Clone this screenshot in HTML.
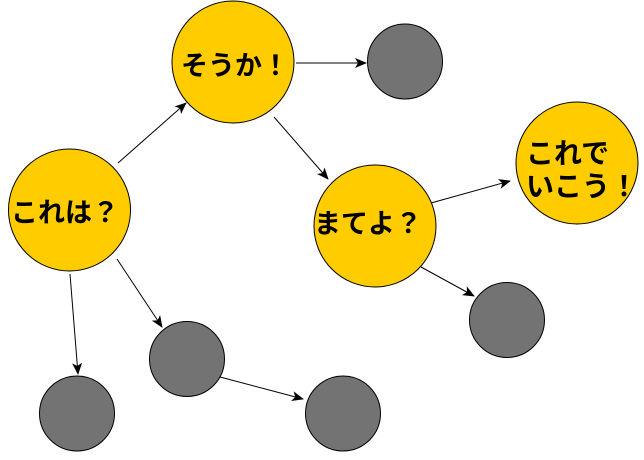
<!DOCTYPE html>
<html><head><meta charset="utf-8"><style>
body{margin:0;background:#fff;width:644px;height:455px;overflow:hidden}
text{font-family:"Liberation Sans","Noto Sans CJK JP",sans-serif;font-weight:bold;fill:#000}
</style></head><body>
<svg width="644" height="455" viewBox="0 0 644 455">
<defs><marker id="a" viewBox="0 0 12 10" refX="11" refY="5" markerWidth="12" markerHeight="10" markerUnits="userSpaceOnUse" orient="auto"><path d="M0,0 L12,5 L0,10 L3,5 Z" fill="#000"/></marker></defs>
<g stroke="#000" stroke-width="1" marker-end="url(#a)">
<line x1="118" y1="163" x2="186" y2="103"/>
<line x1="296" y1="63" x2="366" y2="63"/>
<line x1="274" y1="117" x2="328" y2="179"/>
<line x1="431" y1="203" x2="510" y2="181"/>
<line x1="421" y1="267" x2="474" y2="296"/>
<line x1="70" y1="274" x2="78" y2="374"/>
<line x1="117" y1="259" x2="162" y2="327"/>
<line x1="220" y1="377" x2="303" y2="399"/>
</g>
<g stroke="#000" stroke-width="1">
<circle cx="69.5" cy="210" r="61" fill="#ffcc00"/>
<circle cx="233" cy="62" r="61" fill="#ffcc00"/>
<circle cx="375" cy="226" r="61" fill="#ffcc00"/>
<circle cx="577" cy="163" r="61" fill="#ffcc00"/>
<circle cx="405" cy="61.5" r="37.5" fill="#737373"/>
<circle cx="507" cy="320" r="37.5" fill="#737373"/>
<circle cx="187" cy="359" r="37.5" fill="#737373"/>
<circle cx="77" cy="413.5" r="37.5" fill="#737373"/>
<circle cx="343" cy="413.5" r="37.5" fill="#737373"/>
</g>
<text x="11" y="222" font-size="27">これは？</text>
<text x="181" y="75" font-size="27">そうか！</text>
<text x="314" y="233" font-size="27">まてよ？</text>
<text x="526" y="163" font-size="28">これで</text>
<text x="526" y="196" font-size="28">いこう！</text>
</svg>
</body></html>
